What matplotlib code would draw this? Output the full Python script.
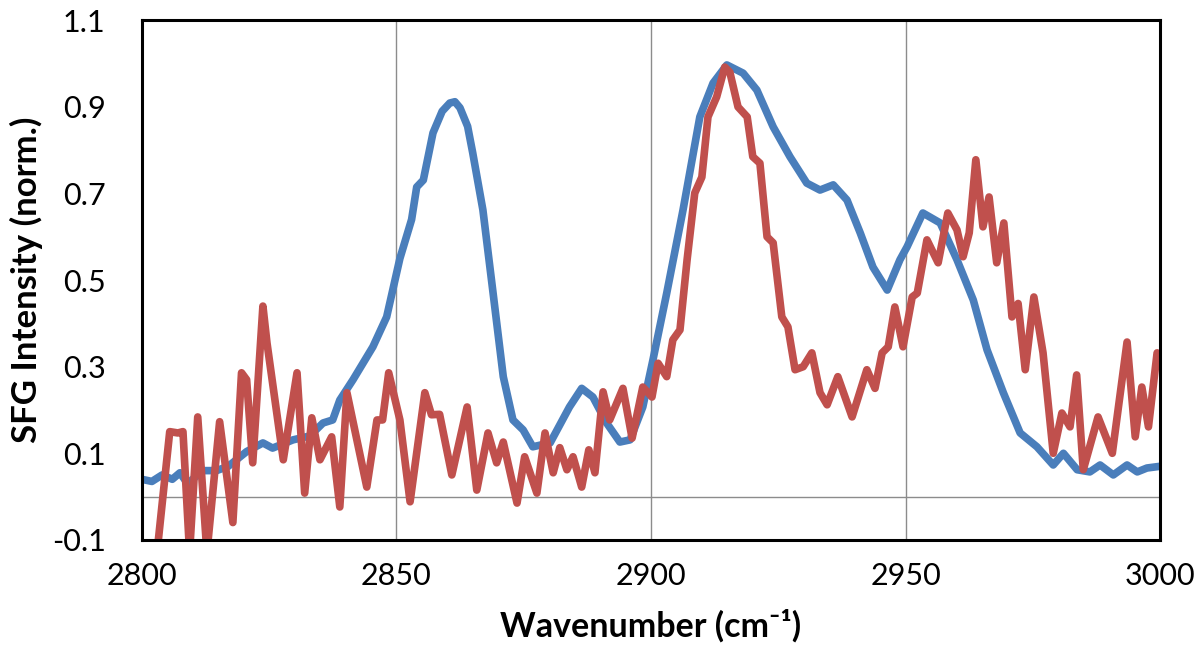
import matplotlib
matplotlib.use("Agg")
import matplotlib.pyplot as plt

plt.rcParams["font.family"] = ["Lato", "DejaVu Sans"]

# blue trace: smooth spectrum
blue_x = [2800, 2802, 2804, 2806, 2807.5, 2809, 2812, 2814.7, 2817, 2820.6, 2823.8,
          2825.7, 2829.7, 2833, 2835.6, 2837.5, 2838.9, 2841.5, 2845.4, 2848.1, 2850.7,
          2853, 2854, 2855.3, 2857.2, 2859, 2860.5, 2861.5, 2862.5, 2864, 2865, 2867,
          2869, 2871, 2872.9, 2874.9, 2876.8, 2880.2, 2884, 2886.4, 2888.6, 2891.3,
          2893.9, 2895.9, 2898.4, 2900.4, 2903.1, 2906.3, 2909.6, 2912.2, 2914.9, 2918.1,
          2920.8, 2924, 2927.3, 2930.6, 2933.2, 2935.8, 2938.5, 2941.1, 2943.6, 2946.4,
          2948.9, 2950.3, 2953.4, 2956.8, 2960.1, 2963.3, 2966, 2969.2, 2972.5, 2975.8,
          2979, 2981, 2983.7, 2986.2, 2988.2, 2990.8, 2993.5, 2995.5, 2997.4, 3000]
blue_y = [0.04, 0.035, 0.05, 0.04, 0.055, 0.03, 0.06, 0.06, 0.07, 0.104, 0.124,
          0.112, 0.131, 0.14, 0.17, 0.177, 0.223, 0.27, 0.346, 0.415, 0.55,
          0.64, 0.715, 0.731, 0.84, 0.89, 0.909, 0.912, 0.898, 0.855, 0.794, 0.662,
          0.47, 0.277, 0.177, 0.154, 0.115, 0.124, 0.207, 0.25, 0.23, 0.17,
          0.126, 0.131, 0.207, 0.316, 0.47, 0.662, 0.877, 0.955, 0.997, 0.978,
          0.939, 0.854, 0.785, 0.724, 0.708, 0.72, 0.685, 0.609, 0.53, 0.477,
          0.547, 0.577, 0.655, 0.632, 0.547, 0.454, 0.339, 0.24, 0.147, 0.115,
          0.073, 0.1, 0.062, 0.057, 0.073, 0.05, 0.073, 0.057, 0.066, 0.07]

# red trace: noisy spectrum
red_x = [2803, 2805.5, 2807.1, 2808.1, 2809.4, 2811, 2812.8, 2815.3, 2817.9, 2819.6,
         2820.6, 2821.8, 2823.8, 2824.6, 2827.8, 2830.5, 2832, 2833.4, 2835, 2837.3,
         2838.9, 2840.3, 2844.2, 2846.2, 2847.3, 2848.5, 2850.7, 2852.7, 2855.6, 2856.9,
         2858.5, 2860.9, 2863.9, 2865.8, 2868, 2869.7, 2871, 2873.7, 2875.2, 2877.6,
         2879.2, 2880.8, 2882.1, 2883.5, 2884.7, 2886.4, 2887.8, 2889, 2890.6, 2891.9,
         2894.5, 2896.3, 2898.4, 2900.2, 2901.4, 2903.1, 2904.3, 2905.7, 2907.1, 2908.6,
         2910, 2911.2, 2912.9, 2914.5, 2915.5, 2917.1, 2918.9, 2920, 2921.4, 2922.8,
         2924, 2925.7, 2926.9, 2928.3, 2929.9, 2931.6, 2933.2, 2934.6, 2936.7, 2939.5,
         2942.4, 2944, 2945.4, 2946.6, 2947.9, 2949.5, 2951.3, 2952.3, 2954.2, 2956.4,
         2958.3, 2960.1, 2961.3, 2962.5, 2963.8, 2965.2, 2966.4, 2967.9, 2969.3, 2970.9,
         2972.1, 2973.5, 2975.2, 2977, 2979, 2980.7, 2982.3, 2983.6, 2984.9, 2987.8,
         2990.6, 2993.5, 2995.1, 2996.4, 2997.7, 2999.4, 3000]
red_y = [-0.13, 0.15, 0.147, 0.15, -0.13, 0.184, -0.13, 0.173, -0.06, 0.286,
         0.27, 0.078, 0.44, 0.355, 0.085, 0.286, 0.008, 0.182, 0.085, 0.138,
         -0.024, 0.24, 0.022, 0.177, 0.177, 0.286, 0.177, -0.012, 0.24, 0.189,
         0.19, 0.05, 0.207, 0.015, 0.147, 0.078, 0.126, -0.015, 0.092, 0.008,
         0.147, 0.055, 0.113, 0.062, 0.092, 0.022, 0.108, 0.055, 0.242, 0.177,
         0.25, 0.135, 0.253, 0.23, 0.308, 0.277, 0.362, 0.385, 0.547, 0.701,
         0.738, 0.877, 0.923, 0.992, 0.98, 0.9, 0.877, 0.785, 0.77, 0.6,
         0.586, 0.415, 0.392, 0.293, 0.3, 0.332, 0.24, 0.212, 0.277, 0.184,
         0.293, 0.25, 0.332, 0.346, 0.438, 0.346, 0.461, 0.47, 0.593, 0.54,
         0.655, 0.616, 0.554, 0.609, 0.778, 0.623, 0.692, 0.54, 0.632, 0.415,
         0.446, 0.293, 0.461, 0.332, 0.1, 0.193, 0.161, 0.281, 0.062, 0.184,
         0.1, 0.357, 0.138, 0.253, 0.161, 0.332, 0.32]

x_ticks = [2800, 2850, 2900, 2950, 3000]
y_ticks = [-0.1, 0.1, 0.3, 0.5, 0.7, 0.9, 1.1]
y_tick_labels = ["-0.1", "0.1", "0.3", "0.5", "0.7", "0.9", "1.1"]


def main():
    fig = plt.figure(figsize=(12.01, 6.56), dpi=100)
    ax = fig.add_axes([0.118, 0.177, 0.848, 0.792])

    for xv in x_ticks[1:-1]:
        ax.axvline(xv, color="#8c8c8c", linewidth=1.0, zorder=1)
    ax.axhline(0.0, color="#8c8c8c", linewidth=1.0, zorder=1)

    ax.plot(blue_x, blue_y, color="#4a7ebb", linewidth=5.5,
            solid_joinstyle="round", solid_capstyle="round", zorder=3)
    ax.plot(red_x, red_y, color="#c0504d", linewidth=5.5,
            solid_joinstyle="round", solid_capstyle="round", zorder=4)

    ax.set_xlim(2800, 3000)
    ax.set_ylim(-0.1, 1.1)
    ax.set_xticks(x_ticks)
    ax.set_yticks(y_ticks)
    ax.set_yticklabels(y_tick_labels)
    ax.tick_params(axis="both", length=0, labelsize=22)
    ax.tick_params(axis="y", pad=26)
    ax.tick_params(axis="x", pad=16)

    for side in ["left", "right", "top", "bottom"]:
        ax.spines[side].set_color("black")
        ax.spines[side].set_linewidth(2.2)
        ax.spines[side].set_zorder(5)

    ax.set_xlabel("Wavenumber (cm\u207b\u00b9)", fontsize=24.5, fontweight="bold", labelpad=14)
    ax.set_ylabel("SFG Intensity (norm.)", fontsize=25, fontweight="bold", labelpad=6)

    fig.savefig("out.png", dpi=100)
    plt.close(fig)


if __name__ == "__main__":
    main()
